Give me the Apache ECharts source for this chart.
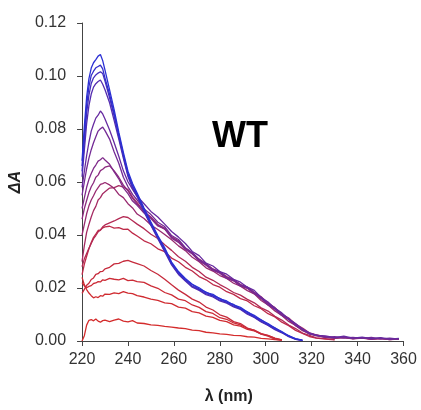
<!DOCTYPE html>
<html>
<head>
<meta charset="utf-8">
<script src="https://cdn.jsdelivr.net/npm/echarts@6/dist/echarts.min.js"></script>
<style>
html,body{margin:0;padding:0;background:#fff;}
#chart{width:421px;height:410px;}
</style>
</head>
<body>
<div id="chart"></div>
<script>
// wavelength grid (nm)
const X = [220,221,222,223,224,225,226,227,228,229,230,232,234,236,238,240,242,244,247,250,253,256,259,262,265,268,271,274,277,280,283,286,289,292,295,298,301,304,307,310,313,316,319,322,326,330,334,338,342,346,350,354,358];
const xTicks = [220,240,260,280,300,320,340,360];
const yTicks = [0,0.02,0.04,0.06,0.08,0.10,0.12];

// difference spectra, from red (first) to blue (last)
const R1 = [0,0.002,0.006,0.0078,0.0081,0.0076,0.0083,0.0075,0.0071,0.0077,0.0079,
  0.0073,0.0079,0.0083,0.0075,0.0072,0.0077,0.0068,
  0.0066,0.0061,0.0059,0.0055,0.0052,0.0049,0.0047,0.0041,0.0039,0.0033,0.0031,0.0027,0.0025,0.0021,0.0020,0.0016,0.0015,0.0010,0.0008,0.0005,0.0003];
const R2 = [0.024,0.0212,0.0194,0.0181,0.0171,0.0163,0.0167,0.0164,0.0171,0.0169,0.0177,
  0.0176,0.0182,0.0179,0.0186,0.0181,0.0179,0.0171,
  0.0166,0.0158,0.0153,0.0144,0.0141,0.0128,0.0124,0.0111,0.0106,0.0094,0.0089,0.0078,0.0073,0.0061,0.0056,0.0044,0.0038,0.0027,0.0020,0.0010,0.0004];
const R3 = [0.022,0.0208,0.0201,0.0206,0.0209,0.0217,0.0219,0.0224,0.0223,0.0231,0.0229,
  0.0236,0.0233,0.0231,0.0236,0.0228,0.0230,0.0224,
  0.0221,0.0208,0.0199,0.0183,0.0174,0.0158,0.0152,0.0136,0.0127,0.0111,0.0104,0.0088,0.0082,0.0068,0.0061,0.0048,0.0041,0.0028,0.0021,0.0011,0.0004];
const R4 = [0.018,0.0195,0.021,0.0218,0.0232,0.0238,0.0251,0.0254,0.0262,0.0263,0.0272,
  0.0278,0.0291,0.0293,0.0301,0.0304,0.0298,0.0292,
  0.0283,0.0266,0.0252,0.0233,0.0212,0.0192,0.0176,0.0158,0.0147,0.0128,0.0117,0.0099,0.0090,0.0073,0.0066,0.0049,0.0040,0.0026,0.0018,0.0007,0.0002];
const R5 = [0.025,0.029,0.032,0.0348,0.0372,0.0391,0.0403,0.0417,0.0419,0.0427,0.0431,
  0.0433,0.0426,0.0428,0.0421,0.0422,0.0407,0.0396,
  0.0378,0.0367,0.0348,0.0337,0.0313,0.0299,0.0278,0.0264,0.0243,0.0231,0.0213,0.0203,0.0186,0.0176,0.0160,0.0151,0.0133,0.0122,0.0103,0.0091,0.0071,0.0058,0.0040,0.0029,0.0017,0.0011,
  0.0007,0.0004];
const R6 = [0.028,0.031,0.033,0.035,0.0368,0.0386,0.0398,0.0412,0.0418,0.0431,0.0438,
  0.0446,0.0453,0.0462,0.0469,0.0466,0.0454,0.0441,
  0.0424,0.0403,0.0387,0.0363,0.0342,0.0318,0.0301,0.0278,0.0262,0.0241,0.0229,0.0213,0.0199,0.0183,0.0173,0.0157,0.0144,0.0125,0.0113,0.0093,0.0079,0.0060,0.0047,0.0030,0.0021,0.0012,
  0.0009,0.0005];
const R7 = [0.030,0.036,0.041,0.044,0.0468,0.0492,0.0508,0.0532,0.0541,0.0556,0.0563,
  0.0577,0.0579,0.0586,0.0581,0.0571,0.0543,0.0522,
  0.0488,0.0467,0.0438,0.0422,0.0393,0.0377,0.0350,0.0332,0.0309,0.0291,0.0272,0.0261,0.0243,0.0232,0.0213,0.0203,0.0184,0.0167,0.0143,0.0126,0.0102,0.0087,0.0064,0.0049,0.0031,0.0023,
  0.0016,0.0011,0.0014,0.0009,0.0012,0.0007,0.0010,0.0005,0.0008];
const R8 = [0.040,0.044,0.048,0.051,0.0532,0.0548,0.0566,0.0579,0.0591,0.0594,0.0598,
  0.0589,0.0576,0.0553,0.0541,0.0518,0.0502,0.0479,
  0.0462,0.0438,0.0421,0.0402,0.0382,0.0359,0.0341,0.0316,0.0299,0.0276,0.0264,0.0247,0.0236,0.0218,0.0207,0.0190,0.0178,0.0153,0.0136,0.0113,0.0096,0.0074,0.0059,0.0039,0.0028,0.0019,
  0.0015,0.0010,0.0013,0.0008,0.0011,0.0006,0.0009,0.0005,0.0007];
const P1 = [0.046,0.050,0.053,0.056,0.0582,0.0597,0.0618,0.0626,0.0643,0.0648,0.0656,
  0.0661,0.0642,0.0618,0.0588,0.0567,0.0538,0.0517,
  0.0488,0.0467,0.0439,0.0426,0.0392,0.0377,0.0349,0.0331,0.0305,0.0288,0.0268,0.0258,0.0238,0.0228,0.0209,0.0200,0.0179,0.0162,0.0137,0.0122,0.0097,0.0082,0.0059,0.0044,0.0028,0.0022,
  0.0015,0.0012,0.0014,0.0010,0.0012,0.0008,0.0010,0.0006,0.0008];
const P2 = [0.050,0.054,0.058,0.061,0.0632,0.0651,0.0664,0.0679,0.0684,0.0692,0.0683,
  0.0667,0.0638,0.0612,0.0578,0.0556,0.0528,0.0512,
  0.0483,0.0462,0.0434,0.0423,0.0388,0.0372,0.0345,0.0328,0.0302,0.0286,0.0266,0.0256,0.0236,0.0227,0.0207,0.0199,0.0178,0.0160,0.0136,0.0120,0.0096,0.0081,0.0058,0.0043,0.0027,0.0021,
  0.0014,0.0013,0.0015,0.0009,0.0013,0.0007,0.0011,0.0006,0.0008];
const P3 = [0.055,0.060,0.065,0.069,0.0722,0.0748,0.0771,0.0792,0.0801,0.0807,0.0794,
  0.0762,0.0713,0.0671,0.0618,0.0582,0.0553,0.0532,
  0.0498,0.0477,0.0448,0.0432,0.0398,0.0383,0.0352,0.0334,0.0307,0.0291,0.0270,0.0261,0.0240,0.0231,0.0212,0.0203,0.0182,0.0165,0.0139,0.0125,0.0099,0.0085,0.0060,0.0046,0.0028,0.0023,
  0.0015,0.0016,0.0012,0.0014,0.0010,0.0014,0.0008,0.0011,0.0007];
const P4 = [0.058,0.064,0.070,0.075,0.0792,0.0818,0.0841,0.0852,0.0868,0.0857,0.0838,
  0.0796,0.0748,0.0697,0.0642,0.0601,0.0572,0.0546,
  0.0518,0.0489,0.0468,0.0441,0.0413,0.0392,0.0368,0.0338,0.0322,0.0294,0.0283,0.0262,0.0252,0.0233,0.0222,0.0203,0.0191,0.0164,0.0147,0.0123,0.0106,0.0083,0.0066,0.0044,0.0031,0.0021,
  0.0019,0.0013,0.0018,0.0011,0.0015,0.0009,0.0013,0.0007,0.0010];
const B1 = [0.062,0.072,0.082,0.0888,0.0932,0.0958,0.0971,0.0979,0.0985,0.0969,0.0948,
  0.0899,0.0832,0.0762,0.0689,0.0621,0.0576,0.0544,
  0.0487,0.0436,0.0386,0.0337,0.0287,0.0251,0.0226,0.0203,0.0191,0.0175,0.0166,0.0151,0.0143,0.0129,0.0119,0.0101,0.0089,0.0072,0.0059,0.0043,0.0031,0.0016,0.0006,0.0001];
const B2 = [0.064,0.075,0.086,0.0928,0.0972,0.0993,0.1004,0.1011,0.1016,0.1009,0.0981,
  0.0918,0.0849,0.0771,0.0697,0.0626,0.0581,0.0549,
  0.0492,0.0439,0.0391,0.0341,0.0291,0.0254,0.0229,0.0207,0.0194,0.0179,0.0169,0.0154,0.0147,0.0132,0.0122,0.0104,0.0091,0.0074,0.0061,0.0045,0.0033,0.0017,0.0008,0.0002];
const B3 = [0.066,0.078,0.089,0.096,0.1002,0.1018,0.1031,0.1036,0.1041,0.1027,0.0992,
  0.0931,0.0858,0.0779,0.0703,0.0632,0.0587,0.0553,
  0.0497,0.0443,0.0394,0.0347,0.0294,0.0259,0.0231,0.0213,0.0196,0.0185,0.0171,0.0161,0.0146,0.0138,0.0121,0.0110,0.0092,0.0080,0.0062,0.0050,0.0033,0.0020,0.0007,0.0002];
const B4 = [0.068,0.081,0.092,0.099,0.103,0.105,0.1062,0.1075,0.1081,0.1058,0.1022,
  0.0948,0.0872,0.0788,0.0712,0.0641,0.0594,0.0558,
  0.0502,0.0449,0.0398,0.0352,0.0298,0.0262,0.0236,0.0214,0.0201,0.0183,0.0176,0.0159,0.0151,0.0136,0.0127,0.0109,0.0097,0.0079,0.0066,0.0049,0.0036,0.0019,0.0009,0.0003];

const seriesNames = ['R1','R2','R3','R4','R5','R6','R7','R8','P1','P2','P3','P4','B1','B2','B3','B4'];
const seriesValues = [R1,R2,R3,R4,R5,R6,R7,R8,P1,P2,P3,P4,B1,B2,B3,B4];
const seriesColors = ['#d42c2c','#d02b30','#cc2b36','#c62b3c','#be2a48','#b32a54','#a52a62','#982a70',
  '#8b2a7e','#7f2a8a','#732a95','#662aa0','#542cb0','#432dbe','#342ec9','#2a2fd4'];

const chart = echarts.init(document.getElementById('chart'), null, {renderer:'canvas'});
const font = 'Liberation Sans';
chart.setOption({
  animation: false,
  backgroundColor: '#fff',
  title: {
    text: 'WT', left: 207, top: 114,
    textStyle: {fontSize: 36, fontWeight: 'bold', color: '#000', fontFamily: font}
  },
  grid: {left: 78, right: 17.5, top: 23, bottom: 63},
  xAxis: {
    type: 'value', min: xTicks[0], max: xTicks[xTicks.length-1], interval: 20,
    axisLine: {show: true, lineStyle: {color: '#444', width: 1}},
    axisTick: {show: true, length: 5, lineStyle: {color: '#444'}},
    axisLabel: {fontSize: 16, color: '#333', margin: 11, fontFamily: font},
    splitLine: {show: false},
    name: 'λ (nm)', nameLocation: 'middle', nameGap: 48,
    nameTextStyle: {fontSize: 16, fontWeight: 'bold', color: '#222', fontFamily: font, padding: [0, 28, 0, 0]}
  },
  yAxis: {
    type: 'value', min: yTicks[0], max: yTicks[yTicks.length-1], interval: 0.02,
    axisLine: {show: true, lineStyle: {color: '#444', width: 1}},
    axisTick: {show: true, length: 5, lineStyle: {color: '#444'}},
    axisLabel: {fontSize: 16, color: '#333', margin: 16, fontFamily: font, formatter: v => v.toFixed(2)},
    splitLine: {show: false},
    name: 'ΔA', nameLocation: 'middle', nameGap: 50, nameRotate: 90,
    nameTextStyle: {fontSize: 16, fontWeight: 'bold', fontStyle: 'italic', color: '#222', fontFamily: font}
  },
  series: seriesValues.map((vals, k) => ({
    name: seriesNames[k],
    type: 'line',
    showSymbol: false,
    silent: true,
    data: vals.map((v, i) => [X[i], v]),
    lineStyle: {color: seriesColors[k], width: 1.3},
    itemStyle: {color: seriesColors[k]}
  }))
});
</script>
</body>
</html>
